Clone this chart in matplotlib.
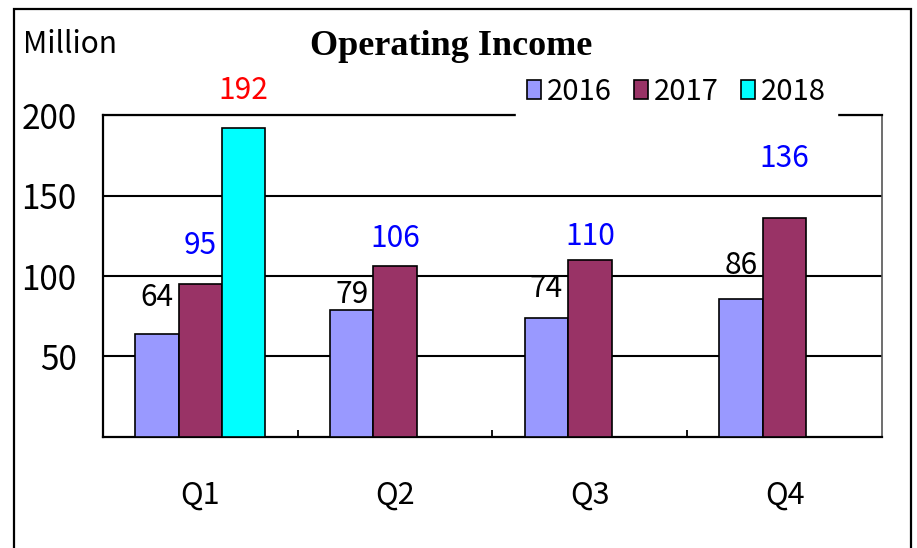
import matplotlib
matplotlib.use("Agg")
import matplotlib.pyplot as plt
from matplotlib.patches import Rectangle
import numpy as np

# data
quarters = ["Q1", "Q2", "Q3", "Q4"]
years = ["2016", "2017", "2018"]
income_2016 = [64, 79, 74, 86]
income_2017 = [95, 106, 110, 136]
income_2018 = [192, None, None, None]
y_ticks = [50, 100, 150, 200]

# style
colors = ["#9999FF", "#993366", "#00FFFF"]
label_colors = ["black", "blue", "red"]
# vertical offsets (points) of the value labels above each bar
label_offsets = [[26, 11, 21, 24], [28, 20, 17, 43], [27, 0, 0, 0]]

plt.rcParams["font.family"] = ["Noto Sans CJK JP", "DejaVu Sans"]


def main():
    fig = plt.figure(figsize=(9.17, 5.48), dpi=100)
    ax = fig.add_axes([0.1123, 0.2026, 0.8495, 0.5875])

    x = np.arange(len(quarters))
    w = 0.223
    series = [income_2016, income_2017, income_2018]
    for k, vals in enumerate(series):
        xs = [xi + (k - 1) * w for xi, v in zip(x, vals) if v is not None]
        vs = [v for v in vals if v is not None]
        ax.bar(xs, vs, width=w, color=colors[k], edgecolor="black",
               linewidth=1.2, label=years[k], zorder=3)
        for j, (xi, v) in enumerate(zip(xs, vs)):
            ax.annotate(str(v), (xi, v), xytext=(0, label_offsets[k][j]),
                        textcoords="offset points", ha="center", va="center",
                        fontsize=21.5, color=label_colors[k], zorder=4)

    ax.set_xlim(-0.5, len(quarters) - 0.5)
    ax.set_ylim(0, 200)
    ax.set_yticks(y_ticks)
    ax.set_yticklabels([str(t) for t in y_ticks])
    ax.set_xticks(x)
    ax.set_xticklabels(quarters)
    ax.set_xticks(x[:-1] + 0.5, minor=True)
    ax.tick_params(axis="x", which="major", length=0, pad=31, labelsize=22)
    ax.tick_params(axis="x", which="minor", direction="in", length=5,
                   width=1.3, color="black")
    ax.tick_params(axis="y", length=0, pad=19, labelsize=24)
    ax.yaxis.grid(True, color="black", linewidth=1.5, zorder=0)
    ax.set_axisbelow(True)
    for side in ["left", "bottom", "top"]:
        ax.spines[side].set_linewidth(1.6)
        ax.spines[side].set_color("black")
    ax.spines["right"].set_linewidth(1.2)
    ax.spines["right"].set_color("#555555")

    leg = ax.legend(loc="lower center", bbox_to_anchor=(0.7377, 1 - 117 / 548),
                    bbox_transform=fig.transFigure, ncol=3, fontsize=21,
                    frameon=True, fancybox=False, borderpad=0.35,
                    handlelength=0.48, handleheight=0.58, handletextpad=0.22,
                    columnspacing=0.75, borderaxespad=0)
    leg.get_frame().set_facecolor("white")
    leg.get_frame().set_edgecolor("white")
    leg.get_frame().set_alpha(1)
    leg.set_zorder(10)

    fig.text(0.492, 0.916, "Operating Income", ha="center", va="center",
             fontsize=26, fontweight="bold", family="Liberation Serif")
    fig.text(0.025, 0.918, "Million", ha="left", va="center", fontsize=21.5)

    fig.patches.append(Rectangle((14 / 917, -0.1), (911 - 14) / 917,
                                 1.1 - 9 / 548, transform=fig.transFigure,
                                 fill=False, edgecolor="black", linewidth=1.6))

    fig.savefig("out.png", dpi=100)


if __name__ == "__main__":
    main()
